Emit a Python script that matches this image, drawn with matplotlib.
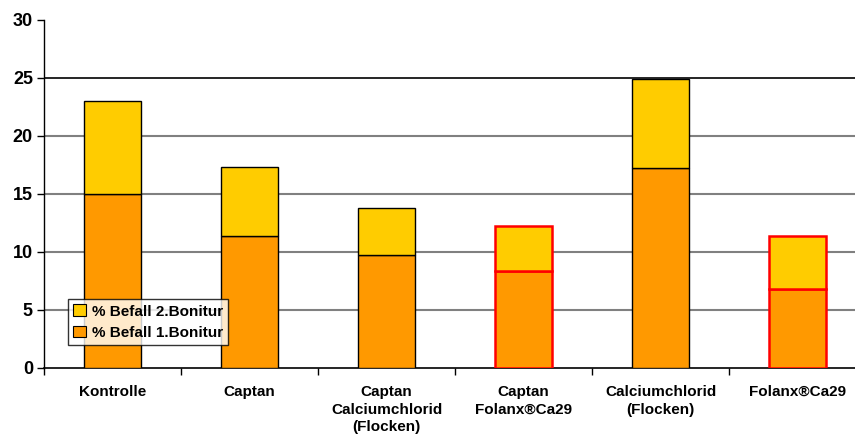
import matplotlib
matplotlib.use("Agg")
import matplotlib.pyplot as plt
import numpy as np

plt.rcParams['font.family'] = ['Liberation Sans', 'DejaVu Sans']

categories = ["Kontrolle", "Captan", "Captan\nCalciumchlorid\n(Flocken)",
              "Captan\nFolanx®Ca29", "Calciumchlorid\n(Flocken)", "Folanx®Ca29"]
befall_1 = [15.0, 11.4, 9.7, 8.4, 17.2, 6.8]
befall_2 = [8.0, 5.9, 4.1, 3.8, 7.7, 4.6]
edge_colors = ["black", "black", "black", "red", "black", "red"]
edge_widths = [1.0, 1.0, 1.0, 1.8, 1.0, 1.8]
yticks = [0, 5, 10, 15, 20, 25, 30]

fig = plt.figure(figsize=(8.55, 4.38), dpi=100)
ax = fig.add_axes([44/855, 1-368/438, 822/855, 348/438])

x = np.arange(len(categories))
w = 0.41
b1 = ax.bar(x, befall_1, width=w, color="#FF9900", edgecolor=edge_colors, linewidth=edge_widths,
            label="% Befall 1.Bonitur", zorder=3)
b2 = ax.bar(x, befall_2, width=w, bottom=befall_1, color="#FFCC00", edgecolor=edge_colors,
            linewidth=edge_widths, label="% Befall 2.Bonitur", zorder=3)

ax.set_xlim(-0.5, len(categories) - 0.5)
ax.set_ylim(0, 30)
ax.set_yticks(yticks)
ax.set_yticklabels([str(t) for t in yticks], fontsize=13, fontweight="bold")
for t in yticks[1:-1]:
    ax.axhline(t, color="black" if t == 25 else "#808080", lw=1.5 if t != 25 else 1.2, zorder=1)

ax.set_xticks(np.arange(-0.5, len(categories) + 0.5, 1.0))
ax.set_xticklabels([])
ax.set_xticks(x, minor=True)
ax.set_xticklabels(categories, minor=True, fontsize=11, fontweight="bold", va="top",
                   linespacing=1.35)
ax.tick_params(axis="x", which="minor", length=0, pad=12)
ax.tick_params(axis="x", which="major", length=5, direction="out", width=1)
ax.tick_params(axis="y", length=5, direction="out", width=1, pad=3)

for s in ["top", "right"]:
    ax.spines[s].set_visible(False)
ax.spines["left"].set_linewidth(1)
ax.spines["bottom"].set_linewidth(1.2)

handles = [b2, b1]
leg = ax.legend(handles, ["% Befall 2.Bonitur", "% Befall 1.Bonitur"],
                loc="lower left", bbox_to_anchor=((68-44)/822, (368-345)/348),
                prop={"weight": "bold", "size": 11}, frameon=True, fancybox=False,
                handlelength=0.8, handleheight=0.8, handletextpad=0.4, borderpad=0.35,
                labelspacing=0.45, borderaxespad=0)
leg.get_frame().set_edgecolor("black")
leg.get_frame().set_linewidth(1)
leg.set_zorder(5)
for h in leg.legend_handles:
    h.set_edgecolor("black")
    h.set_linewidth(0.8)

fig.savefig("out.png", dpi=100)
